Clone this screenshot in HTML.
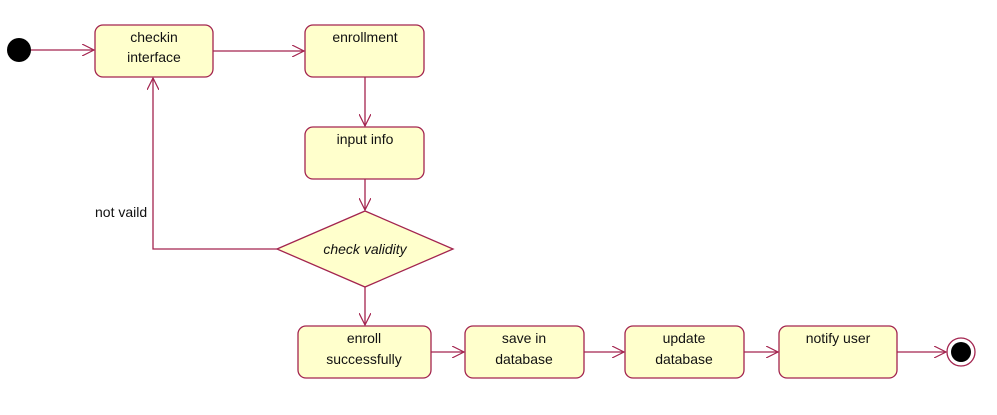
<!DOCTYPE html>
<html><head><style>body{margin:0;background:#fff}</style></head><body>
<svg width="997" height="410" viewBox="0 0 997 410" xmlns="http://www.w3.org/2000/svg" font-family="Liberation Sans, sans-serif" font-size="14" fill="#111">
<defs><marker id="a" markerWidth="14" markerHeight="12" refX="12" refY="6" orient="auto" markerUnits="userSpaceOnUse"><path d="M0,0 L12,6 L0,12" fill="none" stroke="#a3244f" stroke-width="1.2"/></marker></defs>
<g stroke="#a3244f" stroke-width="1.3" fill="none">
<line x1="31" y1="50" x2="94" y2="50" marker-end="url(#a)"/>
<line x1="213" y1="51" x2="304" y2="51" marker-end="url(#a)"/>
<line x1="365" y1="77" x2="365" y2="126" marker-end="url(#a)"/>
<line x1="365" y1="179" x2="365" y2="210" marker-end="url(#a)"/>
<polyline points="277,249 153,249 153,78" marker-end="url(#a)"/>
<line x1="365" y1="287" x2="365" y2="325" marker-end="url(#a)"/>
<line x1="431" y1="352" x2="464" y2="352" marker-end="url(#a)"/>
<line x1="584" y1="352" x2="624" y2="352" marker-end="url(#a)"/>
<line x1="744" y1="352" x2="778" y2="352" marker-end="url(#a)"/>
<line x1="897" y1="352" x2="946" y2="352" marker-end="url(#a)"/>
</g>
<g stroke="#a3244f" stroke-width="1.3" fill="#ffffcc">
<rect x="95" y="25" width="118" height="52" rx="8"/>
<rect x="305" y="25" width="119" height="52" rx="8"/>
<rect x="305" y="127" width="119" height="52" rx="8"/>
<polygon points="277,249 365,211 453,249 365,287"/>
<rect x="298" y="326" width="133" height="52" rx="8"/>
<rect x="465" y="326" width="119" height="52" rx="8"/>
<rect x="625" y="326" width="119" height="52" rx="8"/>
<rect x="779" y="326" width="118" height="52" rx="8"/>
<circle cx="961" cy="352" r="14" fill="#fff"/>
</g>
<circle cx="19" cy="50" r="12" fill="#000"/>
<circle cx="961" cy="352" r="10" fill="#000"/>
<g text-anchor="middle">
<text x="154" y="42">checkin</text><text x="154" y="62">interface</text>
<text x="365" y="42">enrollment</text>
<text x="365" y="144">input info</text>
<text x="365" y="254" font-style="italic">check validity</text>
<text x="364" y="343">enroll</text><text x="364" y="364">successfully</text>
<text x="524" y="343">save in</text><text x="524" y="364">database</text>
<text x="684" y="343">update</text><text x="684" y="364">database</text>
<text x="838" y="343">notify user</text>
</g>
<text x="95" y="217">not vaild</text>
</svg>
</body></html>
